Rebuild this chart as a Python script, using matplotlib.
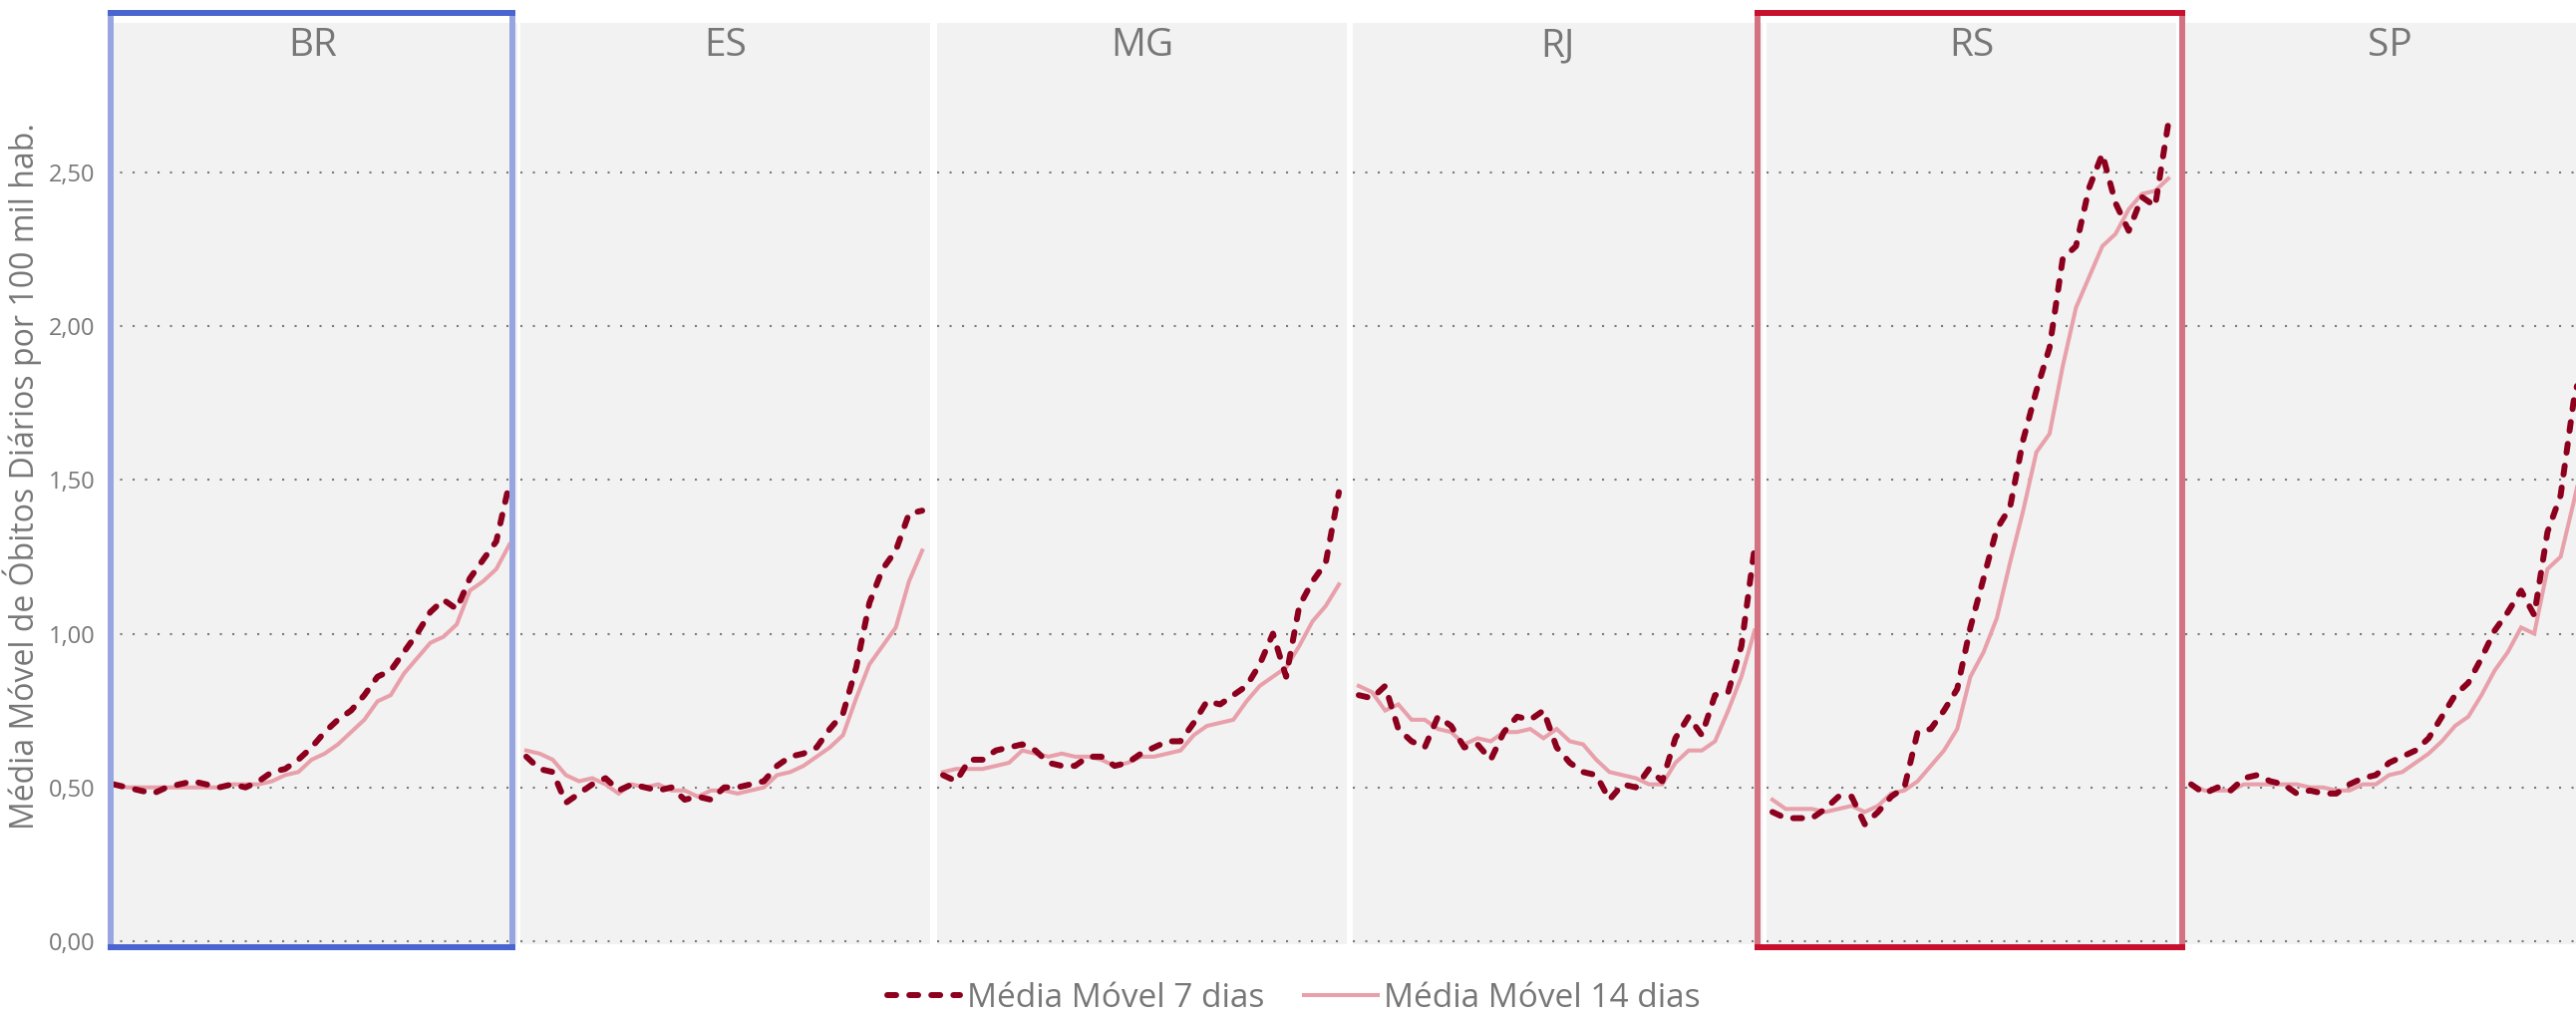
import matplotlib
matplotlib.use("Agg")
import matplotlib.pyplot as plt
from matplotlib.lines import Line2D
import numpy as np

# --- data (daily deaths per 100k, moving averages)
states = ["BR", "ES", "MG", "RJ", "RS", "SP"]

br_7 = [0.51, 0.50, 0.49, 0.48, 0.50, 0.51, 0.52, 0.51, 0.50, 0.51, 0.50, 0.52, 0.55, 0.56, 0.59, 0.63,
        0.68, 0.72, 0.75, 0.80, 0.86, 0.88, 0.94, 1.00, 1.07, 1.11, 1.08, 1.18, 1.24, 1.30, 1.49]
br_14 = [0.51, 0.50, 0.50, 0.50, 0.50, 0.50, 0.50, 0.50, 0.50, 0.51, 0.51, 0.51, 0.52, 0.54, 0.55, 0.59,
         0.61, 0.64, 0.68, 0.72, 0.78, 0.80, 0.87, 0.92, 0.97, 0.99, 1.03, 1.14, 1.17, 1.21, 1.29]

es_7 = [0.60, 0.56, 0.55, 0.45, 0.48, 0.51, 0.53, 0.49, 0.51, 0.50, 0.49, 0.50, 0.46, 0.47, 0.46, 0.50,
        0.50, 0.51, 0.52, 0.57, 0.60, 0.61, 0.63, 0.69, 0.74, 0.89, 1.10, 1.21, 1.27, 1.39, 1.40]
es_14 = [0.62, 0.61, 0.59, 0.54, 0.52, 0.53, 0.51, 0.48, 0.51, 0.50, 0.51, 0.49, 0.49, 0.47, 0.49, 0.49,
         0.48, 0.49, 0.50, 0.54, 0.55, 0.57, 0.60, 0.63, 0.67, 0.79, 0.90, 0.96, 1.02, 1.17, 1.27]

mg_7 = [0.54, 0.52, 0.59, 0.59, 0.62, 0.63, 0.64, 0.62, 0.58, 0.57, 0.57, 0.60, 0.60, 0.57, 0.58, 0.61,
        0.63, 0.65, 0.65, 0.71, 0.78, 0.77, 0.80, 0.83, 0.90, 1.00, 0.86, 1.09, 1.17, 1.23, 1.46]
mg_14 = [0.55, 0.56, 0.56, 0.56, 0.57, 0.58, 0.62, 0.61, 0.60, 0.61, 0.60, 0.60, 0.59, 0.57, 0.58, 0.60,
         0.60, 0.61, 0.62, 0.67, 0.70, 0.71, 0.72, 0.78, 0.83, 0.86, 0.89, 0.96, 1.04, 1.09, 1.16]

rj_7 = [0.80, 0.79, 0.83, 0.69, 0.65, 0.63, 0.73, 0.70, 0.63, 0.64, 0.59, 0.68, 0.73, 0.72, 0.75, 0.63,
        0.58, 0.55, 0.54, 0.46, 0.51, 0.50, 0.56, 0.52, 0.66, 0.73, 0.67, 0.80, 0.81, 0.96, 1.28]
rj_14 = [0.83, 0.81, 0.75, 0.77, 0.72, 0.72, 0.69, 0.68, 0.64, 0.66, 0.65, 0.68, 0.68, 0.69, 0.66, 0.69,
         0.65, 0.64, 0.59, 0.55, 0.54, 0.53, 0.51, 0.51, 0.58, 0.62, 0.62, 0.65, 0.75, 0.86, 1.01]

rs_7 = [0.42, 0.40, 0.40, 0.40, 0.43, 0.47, 0.47, 0.38, 0.42, 0.47, 0.50, 0.68, 0.69, 0.75, 0.82, 1.02,
        1.18, 1.34, 1.41, 1.63, 1.79, 1.93, 2.22, 2.26, 2.45, 2.56, 2.40, 2.31, 2.42, 2.39, 2.66]
rs_14 = [0.46, 0.43, 0.43, 0.43, 0.42, 0.43, 0.44, 0.42, 0.44, 0.48, 0.49, 0.52, 0.57, 0.62, 0.69, 0.86,
         0.94, 1.05, 1.23, 1.40, 1.59, 1.65, 1.87, 2.06, 2.16, 2.26, 2.30, 2.38, 2.43, 2.44, 2.48]

sp_7 = [0.51, 0.48, 0.50, 0.49, 0.53, 0.54, 0.52, 0.51, 0.48, 0.49, 0.48, 0.48, 0.51, 0.53, 0.54, 0.58,
        0.60, 0.62, 0.66, 0.73, 0.80, 0.84, 0.92, 1.01, 1.07, 1.14, 1.06, 1.33, 1.45, 1.76, 1.95]
sp_14 = [0.51, 0.49, 0.49, 0.49, 0.51, 0.51, 0.51, 0.51, 0.51, 0.50, 0.50, 0.49, 0.49, 0.51, 0.51, 0.54,
         0.55, 0.58, 0.61, 0.65, 0.70, 0.73, 0.80, 0.88, 0.94, 1.02, 1.00, 1.21, 1.25, 1.43, 1.62]

series_7 = [br_7, es_7, mg_7, rj_7, rs_7, sp_7]
series_14 = [br_14, es_14, mg_14, rj_14, rs_14, sp_14]

y_ticks = [0.0, 0.5, 1.0, 1.5, 2.0, 2.5]
y_tick_labels = ["0,00", "0,50", "1,00", "1,50", "2,00", "2,50"]
label_7 = "Média Móvel 7 dias"
label_14 = "Média Móvel 14 dias"
y_label = "Média Móvel de Óbitos Diários por 100 mil hab."

# --- styles
DARK_RED = "#8c001e"
PINK = "#e8a0aa"
TEXT_GRAY = "#777777"
PANEL_BG = "#f2f2f2"
W, H = 2584, 1023

plt.rcParams["font.family"] = ["Open Sans", "DejaVu Sans"]

fig = plt.figure(figsize=(W / 100, H / 100), dpi=100)

panel_left = [108, 522, 940, 1357, 1772, 2192]
panel_w = 411
ax_top, ax_bottom = 23, 947


def px_box(x0, y0, w, h):
    # pixel coords (top-left origin) -> figure fraction
    return [x0 / W, 1 - (y0 + h) / H, w / W, h / H]


axes = []
for i, st in enumerate(states):
    ax = fig.add_axes(px_box(panel_left[i], ax_top, panel_w, ax_bottom - ax_top))
    ax.set_facecolor(PANEL_BG)
    x = np.arange(len(series_7[i]))
    ax.plot(x, series_14[i], color=PINK, linewidth=2.9, solid_joinstyle="miter", label=label_14, zorder=3)
    ax.plot(x, series_7[i], color=DARK_RED, linewidth=4.3, dashes=(1.5, 2.2),
            dash_capstyle="round", label=label_7, zorder=4)
    ax.set_xlim(-0.45, 30.6)
    ax.set_ylim(-0.01, 2.986)
    ax.set_yticks(y_ticks)
    ax.yaxis.grid(True, linestyle=(0, (1, 5)), color="#7a7a7a", linewidth=1.5)
    ax.set_axisbelow(True)
    ax.set_xticks([])
    for s in ax.spines.values():
        s.set_visible(False)
    ax.tick_params(axis="y", length=0, pad=9, labelsize=17, labelcolor=TEXT_GRAY)
    if i == 0:
        ax.set_yticklabels(y_tick_labels)
    else:
        ax.set_yticklabels([])
    ax.text(0.5, 0.975, st, transform=ax.transAxes, ha="center", va="center",
            fontsize=28, color=TEXT_GRAY)
    axes.append(ax)


def frame_box(x0, x1, y0, y1, dark, light, lw=4.3):
    fx = lambda v: v / W
    fy = lambda v: 1 - v / H
    for xv in (x0, x1):
        fig.add_artist(Line2D([fx(xv), fx(xv)], [fy(y0), fy(y1)], color=light, linewidth=lw,
                              transform=fig.transFigure, zorder=10))
    for yv in (y0, y1):
        fig.add_artist(Line2D([fx(x0 - 3), fx(x1 + 3)], [fy(yv), fy(yv)], color=dark, linewidth=lw,
                              transform=fig.transFigure, zorder=11, solid_capstyle="butt"))


# highlight frames around BR and RS
frame_box(111, 514, 13, 950, "#4a64d0", "#97a6e0")
frame_box(1763, 2189, 13, 950, "#c8102e", "#d47282")

fig.text(22 / W, 1 - 478 / H, y_label, rotation=90, ha="center", va="center",
         fontsize=23, color=TEXT_GRAY)

handles, labels = axes[0].get_legend_handles_labels()
fig.legend(handles[::-1], labels[::-1], loc="center", bbox_to_anchor=(1298 / W, 1 - 1001 / H),
           ncol=2, frameon=False, fontsize=24, handlelength=2.2, handletextpad=0.2,
           columnspacing=1.2, labelcolor=TEXT_GRAY)

fig.savefig("out.png", dpi=100)
